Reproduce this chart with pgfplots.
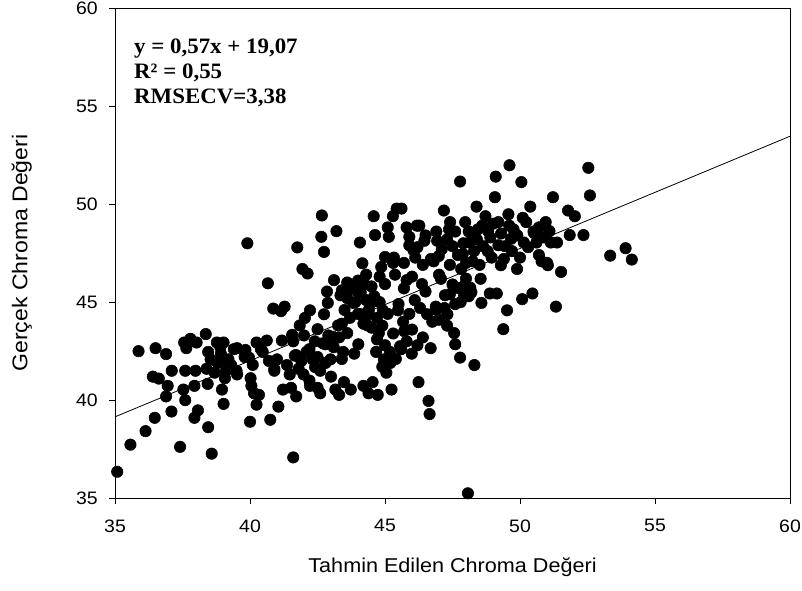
\documentclass[border=0pt]{standalone}
\usepackage{pgfplots}
\pgfplotsset{compat=1.18}
\usepackage{pgfplotstable}
\usepackage{fontspec}
\setmainfont[FakeStretch=1.08]{Liberation Sans}
\newfontfamily\anno[FakeStretch=1.04]{Liberation Serif}
\pgfplotstableread{
x y
35.08 36.35
35.57 37.73
36.13 38.42
35.87 42.5
36.47 39.10
36.4 41.2
36.62 41.1
36.5 42.65
36.89 42.35
36.95 40.73
36.89 40.19
37.1 41.5
37.09 39.42
37.41 37.62
37.56 42.94
37.64 42.65
37.6 41.5
37.53 40.54
37.6 40.0
37.79 43.13
38.02 42.94
37.98 41.5
37.94 40.73
37.94 39.1
38.07 39.48
38.36 43.37
38.45 42.46
38.54 42.08
38.39 41.6
38.43 40.83
38.45 38.62
38.58 37.27
38.77 42.94
39.02 42.94
38.92 42.37
38.69 41.4
39.11 41.5
39.07 41.12
38.96 40.54
39.02 39.81
39.2 42.08
39.3 41.79
39.52 41.31
39.52 42.65
39.83 42.56
39.9 48.0
39.96 42.17
40.02 41.12
40.0 38.9
40.05 40.73
40.15 40.35
40.24 39.77
40.33 40.27
40.24 42.94
40.47 42.46
40.62 43.04
40.66 45.96
40.75 39.0
40.86 44.67
40.9 41.6
41.0 42.08
41.05 39.67
41.15 44.54
41.18 43.04
41.22 40.54
41.28 44.77
41.37 41.79
41.47 41.31
41.52 40.63
41.56 43.33
41.6 37.08
41.66 42.27
41.71 40.19
41.75 47.79
41.84 43.81
41.94 46.69
41.98 41.31
42.09 42.46
42.13 46.46
42.03 44.19
42.22 44.58
42.22 40.73
42.32 42.08
42.41 41.69
42.5 43.62
42.5 40.63
42.6 40.35
42.66 49.42
42.64 48.33
42.74 47.56
42.74 44.38
42.79 42.85
42.85 45.54
42.88 44.96
42.98 42.08
43.07 43.23
43.11 46.12
43.2 48.62
43.16 40.54
43.26 43.81
43.3 40.27
43.35 45.35
43.45 42.46
43.48 40.92
43.6 43.42
43.64 45.63
43.73 40.54
43.82 44.96
43.86 42.37
43.98 45.54
44.01 42.85
44.07 48.04
44.11 44.38
44.16 46.98
44.2 40.73
44.24 45.92
44.3 44.29
44.35 43.81
44.39 40.35
44.48 44.96
44.54 40.92
44.58 49.38
44.63 48.42
44.67 42.46
44.73 40.27
44.77 43.42
44.86 46.79
44.92 44.58
44.96 42.08
45.0 45.92
45.05 41.4
45.1 48.81
45.14 48.33
45.18 42.46
45.24 40.54
45.29 49.38
45.33 47.27
45.37 46.4
45.43 49.77
45.48 44.58
45.56 42.75
45.61 49.77
45.67 44.0
45.71 43.52
45.8 48.81
45.8 46.12
45.9 48.33
45.99 42.37
46.05 47.65
46.12 47.27
46.18 48.9
46.24 40.92
46.27 48.9
46.37 45.92
46.46 48.13
46.5 45.54
46.56 44.38
46.61 39.96
46.65 39.29
46.69 42.65
46.75 44.0
46.8 47.08
46.88 44.77
46.93 48.13
46.99 47.35
47.07 46.19
47.18 49.67
47.22 45.35
47.31 44.38
47.37 48.71
47.41 49.08
47.5 47.85
47.56 43.42
47.6 42.85
47.69 45.73
47.78 51.15
47.78 42.17
47.82 46.69
47.88 47.46
47.93 45.35
47.97 49.08
48.07 35.25
48.12 48.04
48.16 45.73
48.25 47.08
48.31 41.79
48.39 49.87
48.44 48.71
48.54 46.19
48.57 44.96
48.63 47.85
48.72 49.38
48.82 48.62
48.88 45.44
48.95 47.27
49.07 50.35
49.1 51.4
49.14 45.44
49.2 49.08
49.29 46.88
49.38 43.62
49.44 47.85
49.52 44.58
49.57 49.48
49.61 51.98
49.67 48.23
49.76 48.71
49.89 46.69
50.0 47.27
50.05 51.12
50.08 45.15
50.14 48.04
50.23 49.08
50.38 49.87
50.46 45.44
50.52 48.52
50.61 48.04
50.7 48.81
50.8 47.08
50.95 49.08
51.03 46.88
51.09 48.62
51.14 48.04
51.22 50.35
51.33 44.77
51.37 48.04
51.52 46.54
51.78 49.67
51.84 48.42
52.03 49.38
52.35 48.42
52.53 51.85
52.59 50.44
53.34 47.37
53.91 47.75
54.14 47.17
43.4 45.6
43.6 45.2
43.5 44.6
43.8 45.8
43.9 45.0
44.0 44.4
44.1 45.5
44.3 45.1
44.4 44.6
44.5 45.8
44.6 45.3
44.2 43.9
43.7 44.2
44.7 44.2
44.8 45.0
43.4 43.9
44.5 43.7
44.0 46.1
43.6 46.0
44.3 46.4
46.2 47.8
46.5 48.4
46.7 47.2
46.9 48.6
47.1 47.7
47.3 48.2
47.4 46.9
47.6 48.6
47.7 47.4
47.9 48.0
48.0 47.0
48.1 48.6
48.3 47.6
48.4 48.2
48.5 46.9
48.6 48.9
48.8 47.6
48.9 48.3
49.0 49.0
49.2 47.9
49.3 48.5
49.4 47.2
49.6 48.9
49.7 47.6
49.9 48.4
50.1 49.3
50.3 47.8
50.5 48.6
50.7 47.4
50.9 48.3
51.0 47.0
47.0 46.4
47.5 45.9
48.0 46.2
48.2 45.5
47.8 45.0
46.4 46.9
46.0 46.3
45.7 47.0
45.9 47.9
41.7 42.3
41.9 42.0
42.2 42.6
42.5 42.2
42.7 42.9
42.9 43.3
43.1 42.7
43.3 43.2
42.4 43.0
42.0 43.3
41.6 43.0
42.8 41.9
43.0 41.2
43.4 42.1
42.6 41.5
42.2 41.0
41.8 41.6
38.9 42.7
39.2 41.9
39.5 41.5
39.8 42.2
40.1 41.8
40.4 42.6
40.7 42.0
40.9 41.5
38.8 41.9
39.4 42.6
44.7 43.1
44.9 43.8
45.1 44.4
45.3 43.4
45.5 44.9
45.7 45.7
45.9 44.4
46.1 45.1
46.3 44.7
45.0 42.8
45.2 41.9
45.4 42.1
44.9 41.7
45.6 42.6
45.8 43.0
46.0 43.6
46.2 42.8
46.4 43.2
44.8 46.3
45.0 47.3
45.3 47.0
47.2 44.7
47.4 45.4
47.6 44.9
47.9 45.8
48.1 45.3
47.3 43.8
47.0 44.1
46.9 44.6
}\pts
\begin{document}
\begin{tikzpicture}
\begin{axis}[
  name=ax,
  scale only axis,
  width=506pt, height=367.5pt,
  xmin=35, xmax=60, ymin=35, ymax=60,
  xtick={35,40,...,60}, ytick={35,40,...,60},
  tick align=outside, tick pos=left,
  major tick length=4.5pt,
  tick style={black, line width=0.6pt},
  axis line style={line width=0.6pt},
  ticklabel style={font=\fontsize{13.5}{15}\selectfont},
  /pgf/number format/assume math mode=true,
  xticklabel style={yshift=-8pt},
  yticklabel style={xshift=-5pt},
  clip=false,
]
\addplot[only marks, mark=*, mark size=4.3pt, black] table {\pts};
\addplot[black, line width=0.6pt] coordinates {(35,39.15) (60,53.46)};
\node[anchor=north west, align=left, font=\anno\bfseries\fontsize{16.5}{19}\selectfont, inner sep=0pt]
  at (axis cs:35.7,58.45) {y = 0,57x + 19,07\\R² = 0,55\\RMSECV=3,38};
\end{axis}
\node[rotate=90, font=\fontsize{16}{18}\selectfont] at ([xshift=-70pt]ax.west) {Gerçek Chroma Değeri};
\node[font=\fontsize{15}{17}\selectfont] at ([yshift=-52pt]ax.south) {Tahmin Edilen Chroma Değeri};
\pgfresetboundingbox
\path ([xshift=-86.25pt,yshift=-69pt]ax.south west) rectangle ([xshift=9pt,yshift=6pt]ax.north east);
\end{tikzpicture}
\end{document}
